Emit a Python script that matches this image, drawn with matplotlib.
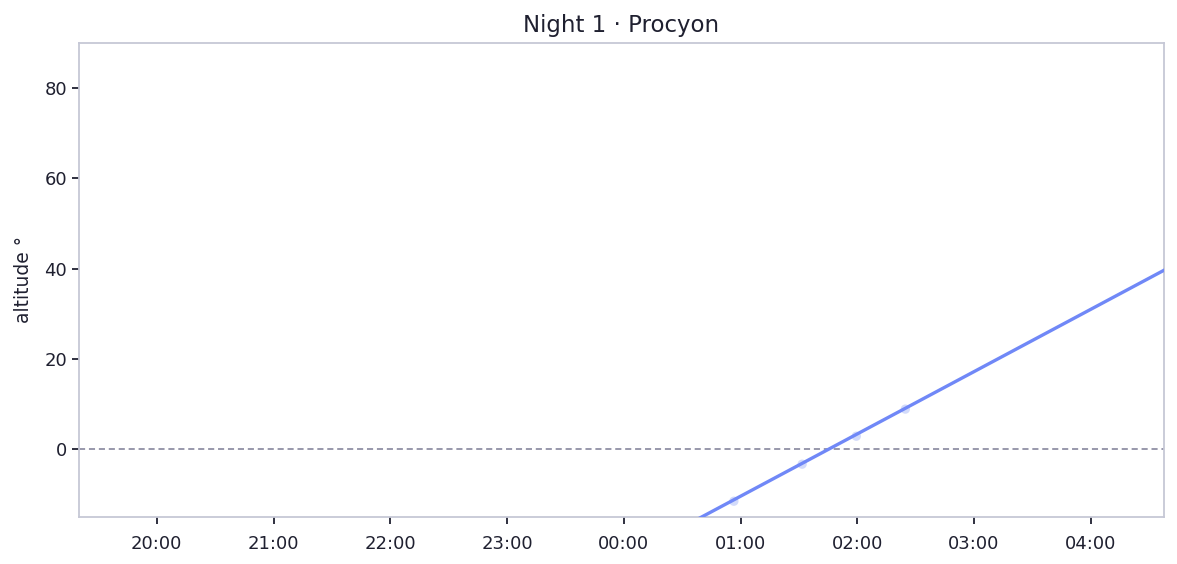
import datetime as dt
import matplotlib
matplotlib.use("Agg")
import matplotlib.pyplot as plt
import matplotlib.dates as mdates

night = dt.date(2024, 1, 1)
nxt = night + dt.timedelta(days=1)

# altitude track (hours after midnight, degrees)
track_hours = [0.0, 0.5, 1.0, 1.5, 2.0, 2.5, 3.0, 3.5, 4.0, 4.5, 5.0]
track_alt = [-24.2, -17.3, -10.4, -3.5, 3.4, 10.3, 17.2, 24.1, 31.0, 37.9, 44.8]

# observed points
obs_hours = [0.943, 1.528, 1.992, 2.412]
obs_alt = [-11.5, -3.3, 2.9, 8.9]

start = dt.datetime.combine(night, dt.time(19, 20))
end = dt.datetime.combine(nxt, dt.time(4, 37, 30))

def to_dt(h):
    return dt.datetime.combine(nxt, dt.time(0, 0)) + dt.timedelta(hours=h)

line_color = "#7088f7"
text_color = "#1f2030"
spine_color = "#c6c8d6"

fig = plt.figure(figsize=(11.77, 5.64), dpi=100)
ax = fig.add_axes([0.0671, 0.0833, 0.9216, 0.8405])

ax.axhline(0, color="#7c7c94", lw=1.1, ls=(0, (4, 2.5)), zorder=1)
ax.plot([to_dt(h) for h in track_hours], track_alt, color=line_color, lw=2.4, zorder=3)
ax.scatter([to_dt(h) for h in obs_hours], obs_alt, s=45, color="#9fb0f5", alpha=0.45,
           edgecolors="none", zorder=2)

ax.set_xlim(start, end)
ax.set_ylim(-15, 90)
ax.set_yticks([0, 20, 40, 60, 80])
ax.xaxis.set_major_locator(mdates.HourLocator())
ax.xaxis.set_major_formatter(mdates.DateFormatter("%H:%M"))

for s in ax.spines.values():
    s.set_color(spine_color)
    s.set_linewidth(1.3)
ax.tick_params(colors=text_color, labelsize=13, length=5, width=1.3)
ax.tick_params(axis="x", pad=8)

ax.set_title("Night 1 · Procyon", fontsize=16.5, color=text_color, pad=8)
ax.set_ylabel("altitude °", fontsize=13.5, color=text_color, labelpad=8)

fig.savefig("out.png", dpi=100)
